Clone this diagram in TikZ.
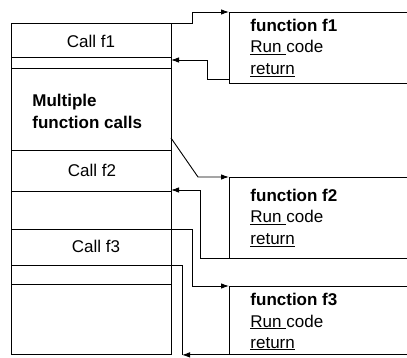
\documentclass[tikz,border=0pt]{standalone}
\usepackage{fontspec}
\setmainfont{Liberation Sans}
\usetikzlibrary{arrows.meta,calc}
\begin{document}
\begin{tikzpicture}[x=1pt,y=-1pt,line width=0.9pt,
  cell/.style={draw,inner sep=0pt,minimum width=160pt,anchor=north west},
  fbox/.style={inner sep=0pt,minimum width=178pt,anchor=north west},
  txt/.style={inner sep=0pt,font=\fontsize{17}{22}\selectfont},
  arr/.style={-{Latex[length=8pt,width=5.5pt]}}]
\useasboundingbox (0,0) rectangle (407,358);
% left column
\node[cell,minimum height=34pt] (c1) at (11,23) {};
\node[cell,minimum height=11pt] (gap1) at (11,57) {};
\node[cell,minimum height=82pt] (mult) at (11,68) {};
\node[cell,minimum height=41pt] (call2) at (11,150) {};
\node[cell,minimum height=38pt] (gap2) at (11,191) {};
\node[cell,minimum height=36pt] (call3) at (11,229) {};
\node[cell,minimum height=19pt] (gap3) at (11,265) {};
\node[cell,minimum height=70pt] (rest) at (11,284) {};
\node[txt,anchor=base] (tc1) at (91,48) {Call f1};
\node[txt,anchor=north west,align=left,font=\fontsize{17}{22}\selectfont\bfseries] (tm) at (32,94) {Multiple\\function calls};
\node[txt,anchor=base] (tc2) at (92,177) {Call f2};
\node[txt,anchor=base] (tc3) at (96,253) {Call f3};
% function boxes (open to the right)
\node[fbox,minimum height=71pt] (f1) at (229,12) {};
\node[fbox,minimum height=81pt] (f2) at (229,177) {};
\node[fbox,minimum height=68pt] (f3) at (229,286) {};
\foreach \f in {f1,f2,f3}{
  \draw (\f.north east) -- (\f.north west) -- (\f.south west) -- (\f.south east);
}
\node[txt,anchor=base west] (a1) at (250,31.5) {\textbf{function f1}};
\node[txt,anchor=base west] (b1) at (250,53) {\underline{Run\ }code};
\node[txt,anchor=base west] (r1) at (250,75) {\underline{return}};
\node[txt,anchor=base west] (a2) at (250,202) {\textbf{function f2}};
\node[txt,anchor=base west] (b2) at (250,223) {\underline{Run\ }code};
\node[txt,anchor=base west] (r2) at (250,245) {\underline{return}};
\node[txt,anchor=base west] (a3) at (250,305) {\textbf{function f3}};
\node[txt,anchor=base west] (b3) at (250,327) {\underline{Run\ }code};
\node[txt,anchor=base west] (r3) at (250,348) {\underline{return}};
% connectors
\coordinate (ret1) at (171,60);
\coordinate (d2) at (171,138);
\coordinate (ret2) at (171,190);
\draw[arr] (c1.north east) -- ++(21,0) |- (f1.north west);
\draw[arr] ([yshift=4pt]f1.south west) -- ++(-22,0) |- (ret1);
\draw[arr] (d2) -- ++(27,39) -- (f2.north west);
\draw[arr] (f2.south west) -- ++(-29,0) |- (ret2);
\draw[arr] (call3.north east) -- ++(21,0) |- (f3.north west);
\coordinate (k3) at ($(f3.south west)+(-47,0)$);
\draw[arr] (f3.south west) -- (k3);
\draw (k3) |- (gap3.north east);
\end{tikzpicture}
\end{document}
